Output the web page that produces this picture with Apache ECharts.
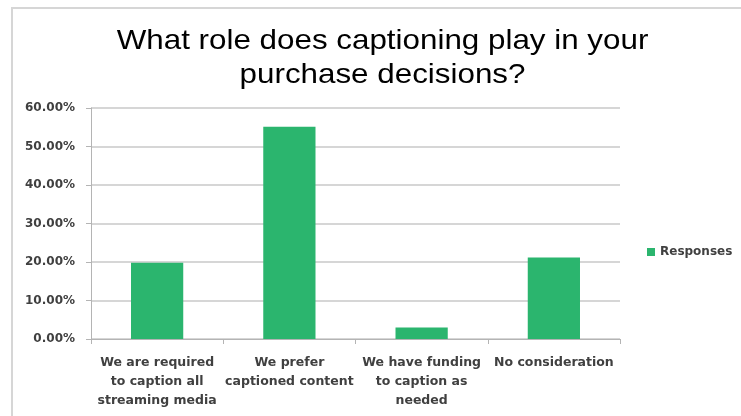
<!DOCTYPE html>
<html>
<head>
<meta charset="utf-8">
<script src="https://cdn.jsdelivr.net/npm/echarts@6/dist/echarts.min.js"></script>
<style>
  html, body { margin: 0; padding: 0; background: #ffffff; }
  #chart { width: 741px; height: 416px; }
</style>
</head>
<body>
<div id="chart"></div>
<script>
// Survey answers and share of responses (percent)
var categories = [
  'We are required\nto caption all\nstreaming media',
  'We prefer\ncaptioned content',
  'We have funding\nto caption as\nneeded',
  'No consideration'
];
var responses = [19.8, 55.1, 3.0, 21.2];
var yTicks = [0, 10, 20, 30, 40, 50, 60];
var seriesName = 'Responses';
var titleLines = ['What role does captioning play in your', 'purchase decisions?'];

var green = '#2bb56e';
var labelFont = 'DejaVu Sans';
var labelColor = '#404040';

// Title: one text element per line (top-aligned), slightly widened
var titleTops = [27, 61.5];
var titleGraphics = titleLines.map(function (line, i) {
  return {
    type: 'text',
    x: 382.5,
    y: titleTops[i],
    scaleX: 1.12,
    silent: true,
    style: {
      text: line,
      font: 'normal 28px "Liberation Sans", Arial, sans-serif',
      fill: '#000000',
      textAlign: 'center',
      textVerticalAlign: 'top'
    }
  };
});

var chart = echarts.init(document.getElementById('chart'), null, { renderer: 'canvas' });

chart.setOption({
  animation: false,
  backgroundColor: '#ffffff',
  legend: {
    data: [seriesName],
    orient: 'vertical',
    left: 647,
    top: 246,
    padding: 0,
    itemWidth: 8,
    itemHeight: 8,
    itemGap: 4,
    icon: 'rect',
    textStyle: {
      fontFamily: labelFont,
      fontSize: 12,
      fontWeight: 'bold',
      color: labelColor,
      padding: [0, 0, 0, 0]
    }
  },
  grid: {
    left: 91,
    right: 121,
    top: 108,
    bottom: 77,
    containLabel: false
  },
  xAxis: {
    type: 'category',
    data: categories,
    axisLine: { lineStyle: { color: '#b4b4b4', width: 1 } },
    axisTick: { show: true, length: 5, lineStyle: { color: '#b4b4b4' } },
    axisLabel: {
      interval: 0,
      margin: 14,
      fontFamily: labelFont,
      fontSize: 12.5,
      fontWeight: 'bold',
      color: labelColor,
      lineHeight: 19
    }
  },
  yAxis: {
    type: 'value',
    min: yTicks[0],
    max: yTicks[yTicks.length - 1],
    interval: yTicks[1] - yTicks[0],
    axisLine: { show: true, lineStyle: { color: '#b4b4b4', width: 1 } },
    axisTick: { show: true, length: 5, lineStyle: { color: '#b4b4b4' } },
    splitLine: { lineStyle: { color: '#c8c8c8', width: 1.5 } },
    axisLabel: {
      margin: 16,
      fontFamily: labelFont,
      fontSize: 12,
      fontWeight: 'bold',
      color: labelColor,
      formatter: function (v) { return v.toFixed(2) + '%'; }
    }
  },
  series: [{
    name: seriesName,
    type: 'bar',
    data: responses,
    barWidth: '39.5%',
    itemStyle: { color: green }
  }],
  graphic: titleGraphics.concat([
    {
      type: 'polyline',
      shape: { points: [[12, 416], [12, 8], [741, 8]] },
      style: { stroke: '#d6d6d6', lineWidth: 2, fill: null },
      silent: true
    }
  ])
});
</script>
</body>
</html>
